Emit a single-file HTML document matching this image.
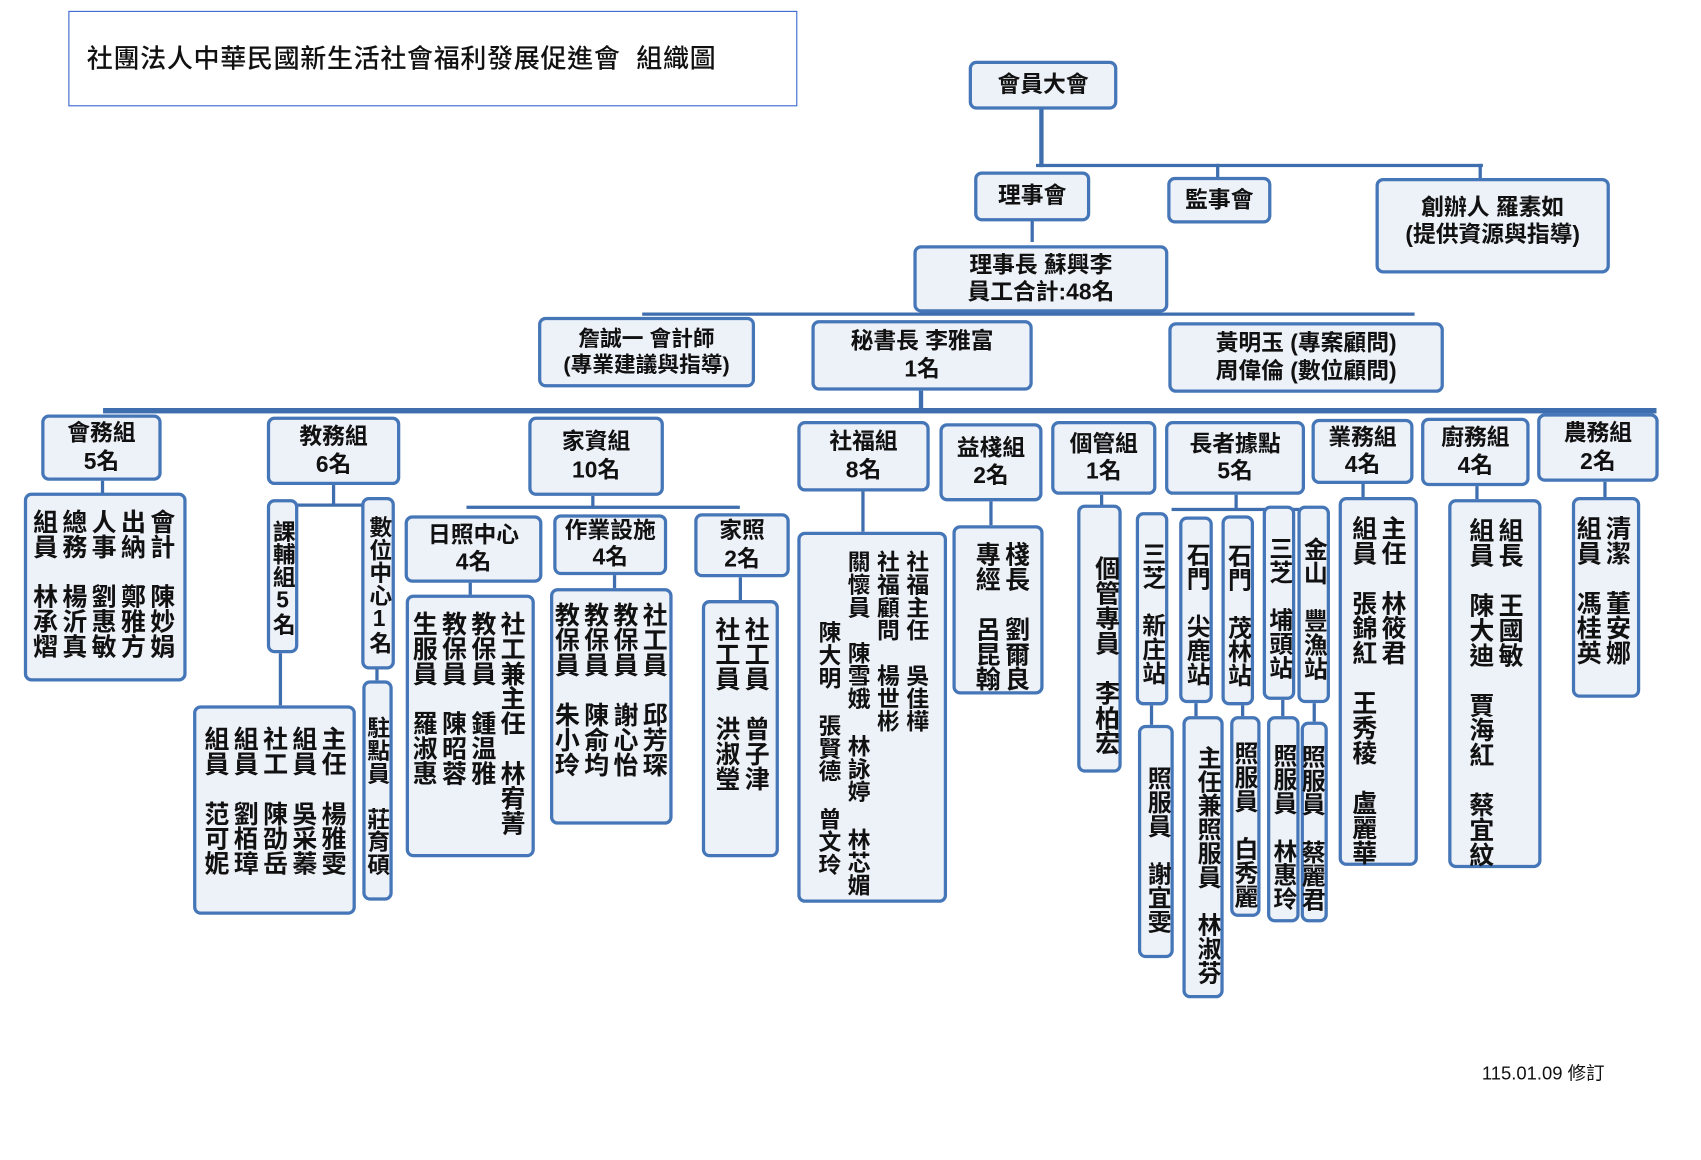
<!DOCTYPE html>
<html><head><meta charset="utf-8">
<style>
html,body{margin:0;padding:0;background:#fff;}
body{width:1701px;height:1160px;overflow:hidden;position:relative;}
#s{position:absolute;left:0;top:0;width:1568px;height:1069px;transform:scale(1.0848,1.0851);transform-origin:0 0;}
#s div{position:absolute;box-sizing:border-box;}
.b{border:3px solid #4576b8;border-radius:7px;background:#edf1f8;font-family:"Liberation Sans","Noto Sans CJK TC",sans-serif;font-weight:bold;color:#111;text-align:center;display:flex;align-items:center;justify-content:center;line-height:1.2;}
.h{font-size:21px;}
.v{writing-mode:vertical-rl;text-orientation:upright;font-size:23px;line-height:27px;align-items:flex-start;justify-content:flex-start;text-align:start;padding:10px 4px;white-space:nowrap;}
.n{writing-mode:vertical-rl;text-orientation:upright;font-size:22px;line-height:24px;white-space:nowrap;align-items:flex-start;justify-content:center;padding-top:8px;}
.l{background:#3e6eae;}
</style></head><body><div id="s">
<div style="left:63px;top:10px;width:672px;height:88px;border:1.5px solid #3563cc;font-family:'Liberation Sans','Noto Sans CJK TC',sans-serif;font-size:24px;letter-spacing:0.6px;font-weight:500;display:flex;align-items:center;padding-left:16px;padding-bottom:6px;color:#111;white-space:nowrap;">社團法人中華民國新生活社會福利發展促進會&nbsp;&nbsp;組織圖</div>

<div class="l" style="left:958px;top:100px;width:4px;height:54px"></div>
<div class="l" style="left:955px;top:151px;width:412px;height:3px"></div>
<div class="l" style="left:1121px;top:151px;width:3px;height:14px"></div>
<div class="l" style="left:1363px;top:151px;width:3px;height:14px"></div>
<div class="l" style="left:950px;top:203px;width:3px;height:20px"></div>
<div class="l" style="left:592px;top:288px;width:712px;height:3px"></div>
<div class="l" style="left:847px;top:360px;width:4px;height:18px"></div>
<div class="l" style="left:95px;top:376px;width:1432px;height:5px"></div>
<div class="l" style="left:306px;top:447px;width:3px;height:18px"></div>
<div class="l" style="left:255px;top:464px;width:92px;height:3px"></div>
<div class="l" style="left:257px;top:602px;width:3px;height:48px"></div>
<div class="l" style="left:545px;top:457px;width:3px;height:11px"></div>
<div class="l" style="left:430px;top:466px;width:252px;height:3px"></div>
<div class="l" style="left:794px;top:453px;width:3px;height:37px"></div>
<div class="l" style="left:1138px;top:456px;width:3px;height:14px"></div>
<div class="l" style="left:1080px;top:468px;width:130px;height:3px"></div>
<div class="l" style="left:93px;top:443px;width:3px;height:12px"></div>
<div class="l" style="left:912px;top:462px;width:3px;height:22px"></div>
<div class="l" style="left:1014px;top:456px;width:3px;height:10px"></div>
<div class="l" style="left:1255px;top:446px;width:3px;height:12px"></div>
<div class="l" style="left:1360px;top:448px;width:3px;height:12px"></div>
<div class="l" style="left:1478px;top:444px;width:3px;height:14px"></div>
<div class="l" style="left:432px;top:537px;width:3px;height:11px"></div>
<div class="l" style="left:565px;top:530px;width:3px;height:12px"></div>
<div class="l" style="left:681px;top:532px;width:3px;height:21px"></div>
<div class="l" style="left:346px;top:617px;width:3px;height:10px"></div>
<div class="l" style="left:1060px;top:650px;width:3px;height:18px"></div>
<div class="l" style="left:1101px;top:648px;width:3px;height:12px"></div>
<div class="l" style="left:1144px;top:650px;width:3px;height:10px"></div>
<div class="l" style="left:1181px;top:645px;width:3px;height:15px"></div>
<div class="l" style="left:1210px;top:648px;width:3px;height:17px"></div>

<div class="b h" style="left:893px;top:56px;width:137px;height:45px">會員大會</div>
<div class="b h" style="left:898px;top:158px;width:107px;height:46px">理事會</div>
<div class="b h" style="left:1076px;top:163px;width:96px;height:43px">監事會</div>
<div class="b h" style="left:1268px;top:164px;width:216px;height:88px;padding-bottom:8px">創辦人 羅素如<br>(提供資源與指導)</div>
<div class="b h" style="left:842px;top:226px;width:235px;height:62px">理事長 蘇興李<br>員工合計:48名</div>
<div class="b h" style="left:496px;top:292px;width:200px;height:65px;font-size:20px">詹誠一 會計師<br>(專業建議與指導)</div>
<div class="b h" style="left:748px;top:295px;width:204px;height:65px">秘書長 李雅富<br>1名</div>
<div class="b h" style="left:1077px;top:297px;width:254px;height:65px">黃明玉 (專案顧問)<br>周偉倫 (數位顧問)</div>

<div class="b h" style="left:38px;top:382px;width:111px;height:61px">會務組<br>5名</div>
<div class="b h" style="left:246px;top:384px;width:123px;height:63px">教務組<br>6名</div>
<div class="b h" style="left:487px;top:384px;width:125px;height:73px">家資組<br>10名</div>
<div class="b h" style="left:735px;top:388px;width:122px;height:65px">社福組<br>8名</div>
<div class="b h" style="left:866px;top:390px;width:95px;height:72px">益棧組<br>2名</div>
<div class="b h" style="left:969px;top:388px;width:97px;height:68px">個管組<br>1名</div>
<div class="b h" style="left:1074px;top:388px;width:129px;height:68px">長者據點<br>5名</div>
<div class="b h" style="left:1209px;top:386px;width:94px;height:60px">業務組<br>4名</div>
<div class="b h" style="left:1310px;top:385px;width:100px;height:63px">廚務組<br>4名</div>
<div class="b h" style="left:1417px;top:381px;width:112px;height:63px">農務組<br>2名</div>

<div class="b v" style="left:22px;top:454px;width:150px;height:174px;padding:12px 8px">會計　陳妙娟<br>出納　鄭雅方<br>人事　劉惠敏<br>總務　楊沂真<br>組員　林承熠</div>

<div class="b n" style="left:246px;top:460px;width:29px;height:142px;font-size:21px;padding-top:2px">課輔組5名</div>
<div class="b n" style="left:333px;top:458px;width:31px;height:159px;font-size:21px;padding-top:2px">數位中心1名</div>
<div class="b v" style="left:178px;top:650px;width:150px;height:193px;padding:16px 6px">主任　楊雅雯<br>組員　吳采蓁<br>社工　陳劭岳<br>組員　劉栢璋<br>組員　范可妮</div>
<div class="b n" style="left:334px;top:627px;width:28px;height:203px;font-size:21px;padding-top:10px">駐點員　莊育碩</div>

<div class="b h" style="left:373px;top:475px;width:127px;height:62px">日照中心<br>4名</div>
<div class="b h" style="left:510px;top:474px;width:105px;height:56px;line-height:1.15">作業設施<br>4名</div>
<div class="b h" style="left:640px;top:473px;width:88px;height:59px">家照<br>2名</div>
<div class="b v" style="left:374px;top:548px;width:119px;height:242px;padding:12px 6px">社工兼主任　林宥菁<br>教保員　鍾温雅<br>教保員　陳昭蓉<br>生服員　羅淑惠</div>
<div class="b v" style="left:507px;top:542px;width:113px;height:218px;padding:10px 2px">社工員　邱芳琛<br>教保員　謝心怡<br>教保員　陳俞均<br>教保員　朱小玲</div>
<div class="b v" style="left:647px;top:553px;width:71px;height:237px;padding:12px 6px">社工員　曾子津<br>社工員　洪淑瑩</div>

<div class="b v" style="left:735px;top:490px;width:138px;height:342px;padding:14px 12px;font-size:21px;line-height:27px">社福主任　吳佳樺<br>社福顧問　楊世彬<br>關懷員　陳雪娥 林詠婷 林芯媚<br>　　 陳大明 張賢德 曾文玲</div>

<div class="b v" style="left:878px;top:484px;width:84px;height:156px;padding:12px 10px">棧長　劉爾良<br>專經　呂昆翰</div>

<div class="b n" style="left:993px;top:465px;width:41px;height:247px;font-size:23px;padding-top:30px">個管專員　李柏宏</div>

<div class="b n" style="left:1047px;top:472px;width:30px;height:178px">三芝　新庄站</div>
<div class="b n" style="left:1087px;top:476px;width:31px;height:172px">石門　尖鹿站</div>
<div class="b n" style="left:1126px;top:475px;width:30px;height:175px">石門　茂林站</div>
<div class="b n" style="left:1164px;top:466px;width:30px;height:179px">三芝　埔頭站</div>
<div class="b n" style="left:1196px;top:466px;width:30px;height:182px">金山　豐漁站</div>
<div class="b n" style="left:1049px;top:668px;width:33px;height:215px;padding-top:14px">照服員　謝宜雯</div>
<div class="b n" style="left:1090px;top:660px;width:38px;height:260px;padding-top:14px">主任兼照服員　林淑芬</div>
<div class="b n" style="left:1134px;top:660px;width:28px;height:185px;padding-top:14px">照服員　白秀麗</div>
<div class="b n" style="left:1168px;top:660px;width:30px;height:190px;padding-top:14px">照服員　林惠玲</div>
<div class="b n" style="left:1199px;top:665px;width:25px;height:185px;padding-top:10px">照服員　蔡麗君</div>

<div class="b v" style="left:1234px;top:458px;width:73px;height:340px;padding:14px 8px">主任　林筱君<br>組員　張錦紅　王秀稜　盧麗華</div>
<div class="b v" style="left:1335px;top:460px;width:86px;height:340px;padding:14px 14px">組長　王國敏<br>組員　陳大迪　賈海紅　蔡宜紋</div>
<div class="b v" style="left:1449px;top:458px;width:63px;height:185px;padding:14px 6px">清潔　董安娜<br>組員　馮桂英</div>

<div style="left:1366px;top:975px;font-family:'Liberation Sans','Noto Sans CJK TC',sans-serif;font-size:17px;color:#111;white-space:nowrap">115.01.09 修訂</div>
</div></body></html>
